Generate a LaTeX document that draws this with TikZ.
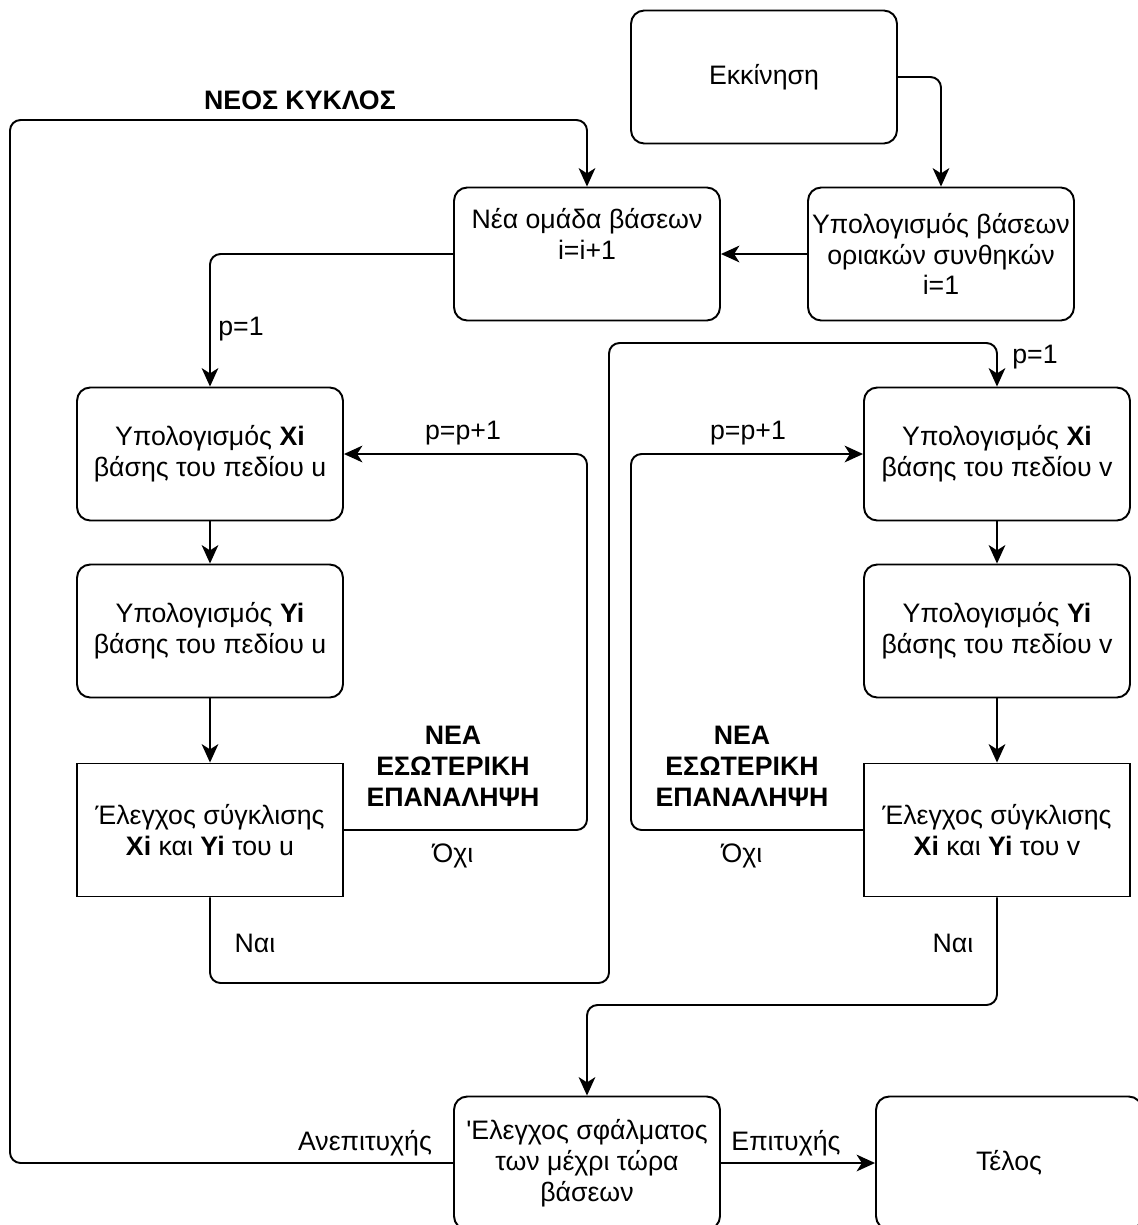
\documentclass[tikz,border=0pt]{standalone}
\usepackage{fontspec}
\setmainfont{Liberation Sans}
\usetikzlibrary{arrows.meta}

\tikzset{
  boite/.style={draw, line width=1.1pt, rounded corners=7.5pt, minimum width=5.32cm, minimum height=2.66cm, align=center, inner sep=1pt},
  carre/.style={draw, line width=1.1pt, minimum width=5.32cm, minimum height=2.66cm, align=center, inner sep=1pt},
  fleche/.style={line width=1.1pt, rounded corners=6pt, -{Stealth[length=10.5pt,width=9.5pt,inset=3pt]}},
  titre/.style={font=\fontsize{15.2}{17.6}\selectfont\bfseries, align=center},
}

\begin{document}
\begin{tikzpicture}[x=0.02cm, y=-0.02cm, font=\fontsize{15.2}{17.6}\selectfont]
      \useasboundingbox (0,0) rectangle (1138,1225);

      % blocs du haut
      \node[boite] (debut) at (764,77) {Εκκίνηση};
      \node[boite] (calcul) at (941,254) {Υπολογισμός βάσεων\\οριακών συνθηκών\\i=1};
      \node[boite] (nea) at (587,254) {Νέα ομάδα βάσεων\\i=i+1\\\strut};

      % champ u
      \node[boite] (xiu) at (210,454) {Υπολογισμός \textbf{Xi}\\βάσης του πεδίου u};
      \node[boite] (yiu) at (210,631) {Υπολογισμός \textbf{Yi}\\βάσης του πεδίου u};
      \node[carre] (elegxu) at (210,830) {Έλεγχος σύγκλισης\\\textbf{Xi} και \textbf{Yi} του u};

      % champ v
      \node[boite] (xiv) at (997,454) {Υπολογισμός \textbf{Xi}\\βάσης του πεδίου v};
      \node[boite] (yiv) at (997,631) {Υπολογισμός \textbf{Yi}\\βάσης του πεδίου v};
      \node[carre] (elegxv) at (997,830) {Έλεγχος σύγκλισης\\\textbf{Xi} και \textbf{Yi} του v};

      % blocs du bas
      \node[boite] (sfalma) at (587,1163) {\textquotesingle Ελεγχος σφάλματος\\των μέχρι τώρα\\βάσεων};
      \node[boite] (telos) at (1009,1163) {Τέλος};

      % points de passage
      \coordinate (retu) at (587,830);
      \coordinate (retv) at (631,830);
      \coordinate (ouiu1) at (609,983);
      \coordinate (ouiu2) at (609,343);
      \coordinate (ouiv) at (587,1005);
      \coordinate (cycle) at (10,120);

      % liaisons
      \draw[fleche] (debut.east) -| (calcul.north);
      \draw[fleche] (calcul.west) -- (nea.east);
      \draw[fleche] (nea.west) -| (xiu.north);
      \draw[fleche] (xiu.south) -- (yiu.north);
      \draw[fleche] (yiu.south) -- (elegxu.north);
      \draw[fleche] (xiv.south) -- (yiv.north);
      \draw[fleche] (yiv.south) -- (elegxv.north);
      \draw[fleche] (elegxu.east) -- (retu) |- (xiu.east);
      \draw[fleche] (elegxv.west) -- (retv) |- (xiv.west);
      \draw[fleche] (elegxu.south) |- (ouiu1) -- (ouiu2) -| (xiv.north);
      \draw[fleche] (elegxv.south) |- (ouiv) -- (sfalma.north);
      \draw[fleche] (sfalma.west) -| (cycle) -| (nea.north);
      \draw[fleche] (sfalma.east) -- (telos.west);

      % etiquettes
      \node[titre] (cyclet) at (300,100) {ΝΕΟΣ ΚΥΚΛΟΣ};
      \node[titre] (iteru) at (453,766) {ΝΕΑ\\ΕΣΩΤΕΡΙΚΗ\\ΕΠΑΝΑΛΗΨΗ};
      \node[titre] (iterv) at (742,766) {ΝΕΑ\\ΕΣΩΤΕΡΙΚΗ\\ΕΠΑΝΑΛΗΨΗ};
      \node (p1u) at (241,329) {p=1};
      \node (p1v) at (1035,357) {p=1};
      \node (ppu) at (463,433) {p=p+1};
      \node (ppv) at (748,433) {p=p+1};
      \node (oxiu) at (453,856) {Όχι};
      \node (oxiv) at (742,856) {Όχι};
      \node (naiu) at (255,943) {Ναι};
      \node (naiv) at (953,943) {Ναι};
      \node (anep) at (365,1143) {Ανεπιτυχής};
      \node (epit) at (786,1143) {Επιτυχής};
\end{tikzpicture}
\end{document}
